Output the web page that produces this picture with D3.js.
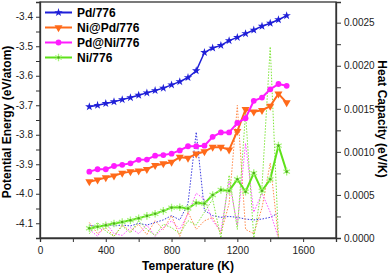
<!DOCTYPE html>
<html>
<head>
<meta charset="utf-8">
<script src="https://cdn.jsdelivr.net/npm/d3@7"></script>
<style>
  body { margin: 0; background: #fff; }
  svg { display: block; font-family: "Liberation Sans", Arial, sans-serif; }
</style>
</head>
<body>
<svg id="svg"></svg>
<script>
const width = 392;
const height = 277;
const margin = { top: 2, right: 56, bottom: 39, left: 40 };

// temperatures (K)
const temps = [300, 350, 400, 450, 500, 550, 600, 650, 700, 750, 800, 850, 900,
  950, 1000, 1050, 1100, 1150, 1200, 1250, 1300, 1350, 1400, 1450, 1500];
const heatTemps = [300, 350, 400, 450, 500, 550, 600, 650, 700, 750, 800, 850, 900,
  950, 1000, 1050, 1100, 1150, 1200, 1250, 1300, 1350, 1400, 1450];

// potential energy (eV/atom)
const pdEnergy = [-3.705, -3.700, -3.694, -3.688, -3.681, -3.674, -3.666, -3.658, -3.650, -3.642,
  -3.631, -3.620, -3.606, -3.583, -3.521, -3.506, -3.497, -3.481, -3.470, -3.457,
  -3.445, -3.432, -3.422, -3.410, -3.396];
const niPdEnergy = [-3.959, -3.953, -3.945, -3.939, -3.930, -3.925, -3.922, -3.917, -3.904, -3.898,
  -3.893, -3.876, -3.879, -3.865, -3.857, -3.842, -3.842, -3.851, -3.788, -3.714,
  -3.722, -3.717, -3.703, -3.661, -3.691];
const pdNiEnergy = [-3.925, -3.917, -3.917, -3.906, -3.902, -3.897, -3.885, -3.884, -3.871, -3.869,
  -3.864, -3.853, -3.839, -3.839, -3.837, -3.807, -3.792, -3.792, -3.760, -3.744,
  -3.685, -3.674, -3.646, -3.628, -3.634];
const niEnergy = [-4.117, -4.112, -4.107, -4.101, -4.096, -4.090, -4.083, -4.075, -4.068, -4.058,
  -4.047, -4.046, -4.050, -4.031, -4.033, -4.004, -3.987, -3.990, -3.951, -3.993,
  -3.930, -3.990, -3.951, -3.837, -3.925];

// heat capacity (eV/K)
const pdHeat = [0.00015, 0.00013, 0.00016, 0.00014, 0.00015, 0.00014, 0.00017, 0.00015, 0.00018, 0.00021,
  0.00026, 0.00021, 0.00040, 0.00123, 0.00032, 0.00026, 0.00024, 0.00025, 0.00024, 0.00022,
  0.00021, 0.00022, 0.00024, 0.00029];
const niPdHeat = [0.00018, 0.00005, 0.00012, 0.00002, 0.00015, 0.00008, 0.00016, 0.00004, 0.00020, 0.00010,
  0.00026, 0.00002, 0.00030, 0.00010, 0.00020, 0.00024, 0.00005, 0.00040, 0.00154, 0.00010,
  0.00005, 0.00035, 0.00087, 0.00000];
const pdNiHeat = [0.00010, 0.00002, 0.00018, 0.00005, 0.00003, 0.00012, 0.00005, 0.00015, 0.00002, 0.00012,
  0.00020, 0.00010, 0.00028, 0.00052, 0.00045, 0.00020, 0.00008, 0.00066, 0.00015, 0.00110,
  0.00030, 0.00052, 0.00030, 0.00000];
const niHeat = [0.00005, 0.00018, 0.00008, 0.00002, 0.00014, 0.00006, 0.00020, 0.00010, 0.00003, 0.00016,
  0.00012, 0.00005, 0.00020, 0.00015, 0.00030, 0.00045, 0.00000, 0.00073, 0.00010, 0.00145,
  0.00000, 0.00060, 0.00222, 0.00000];

const seriesNames = ["Pd/776", "Ni@Pd/776", "Pd@Ni/776", "Ni/776"];
const xTicks = [0, 400, 800, 1200, 1600];
const yTicks = [-4.1, -4.0, -3.9, -3.8, -3.7, -3.6, -3.5, -3.4];
const heatTicks = [0, 0.0005, 0.0010, 0.0015, 0.0020, 0.0025];

const series = [
  { name: seriesNames[0], energy: pdEnergy, heat: pdHeat, color: "#1f1fd8", heatColor: "#3a3ae0", symbol: "star" },
  { name: seriesNames[1], energy: niPdEnergy, heat: niPdHeat, color: "#ff6a1a", heatColor: "#ff8a4a", symbol: "tri" },
  { name: seriesNames[2], energy: pdNiEnergy, heat: pdNiHeat, color: "#ff1cff", heatColor: "#ff50ff", symbol: "circle" },
  { name: seriesNames[3], energy: niEnergy, heat: niHeat, color: "#5ee11a", heatColor: "#7fe63a", symbol: "ast" }
];

const svg = d3.select("#svg")
  .attr("width", width)
  .attr("height", height)
  .attr("viewBox", [0, 0, width, height]);

const x = d3.scaleLinear()
  .domain([0, 1800])
  .range([margin.left, width - margin.right]);

const y = d3.scaleLinear()
  .domain([-4.15, -3.35])
  .range([height - margin.bottom, margin.top]);

const yHeat = d3.scaleLinear()
  .domain([0, 0.00274])
  .range([height - margin.bottom, margin.top]);

function marker(g, type, color) {
  if (type === "star") {
    g.append("path").attr("d", d3.symbol(d3.symbolStar, 22)())
      .attr("fill", color);
  } else if (type === "tri") {
    g.append("path").attr("d", d3.symbol(d3.symbolTriangle, 28)())
      .attr("transform", "rotate(180)")
      .attr("fill", color);
  } else if (type === "circle") {
    g.append("circle").attr("r", 2.9).attr("fill", color);
  } else {
    g.append("path").attr("d", d3.symbol(d3.symbolAsterisk, 40)())
      .attr("fill", "none").attr("stroke", "#a6f57a").attr("stroke-width", 1.3);
    g.append("circle").attr("r", 1.3).attr("fill", "#4caf1a");
  }
}

// heat capacity dotted curves (right axis)
series.forEach(s => {
  svg.append("path")
    .datum(s.heat)
    .attr("fill", "none")
    .attr("stroke", s.heatColor)
    .attr("stroke-width", 1)
    .attr("stroke-dasharray", "1.5,1.5")
    .attr("d", d3.line()
      .x((d, i) => x(heatTemps[i]))
      .y(d => yHeat(d)));
});

// potential energy curves (left axis)
series.forEach((s, k) => {
  svg.append("path")
    .datum(s.energy)
    .attr("fill", "none")
    .attr("stroke", s.color)
    .attr("stroke-width", k === 0 ? 1.5 : 2)
    .attr("d", d3.line()
      .x((d, i) => x(temps[i]))
      .y(d => y(d)));

  svg.append("g")
    .selectAll("g")
    .data(s.energy)
    .join("g")
    .attr("transform", (d, i) => `translate(${x(temps[i])},${y(d)})`)
    .each(function () { marker(d3.select(this), s.symbol, s.color); });
});

// frame
svg.append("rect")
  .attr("x", margin.left)
  .attr("y", margin.top)
  .attr("width", width - margin.left - margin.right)
  .attr("height", height - margin.top - margin.bottom)
  .attr("fill", "none")
  .attr("stroke", "#333")
  .attr("stroke-width", 1.3);

function styleAxis(g) {
  g.select(".domain").attr("stroke", "#333").attr("stroke-width", 1.3);
  g.selectAll(".tick line").attr("stroke", "#333");
  g.selectAll(".tick text").attr("font-size", 10).attr("fill", "#222")
    .attr("font-family", "Liberation Sans, Arial, sans-serif");
}

// bottom axis
svg.append("g")
  .attr("transform", `translate(0,${height - margin.bottom})`)
  .call(d3.axisBottom(x).tickValues([0, 200, 400, 600, 800, 1000, 1200, 1400, 1600])
    .tickSize(4).tickFormat(d => xTicks.includes(d) ? d : ""))
  .call(styleAxis)
  .call(g => g.selectAll(".tick text").attr("dy", "0.9em"));

// left axis
svg.append("g")
  .attr("transform", `translate(${margin.left},0)`)
  .call(d3.axisLeft(y)
    .tickValues(d3.merge(yTicks.map(t => [t, t + 0.05])).filter(t => t < -3.35))
    .tickSize(4)
    .tickFormat(d => yTicks.some(t => Math.abs(t - d) < 1e-6) ? d3.format(".1f")(d).replace("−", "-") : ""))
  .call(styleAxis);

// right axis
svg.append("g")
  .attr("transform", `translate(${width - margin.right},0)`)
  .call(d3.axisRight(yHeat)
    .tickValues(d3.merge(heatTicks.map(t => [t, t + 0.00025])).filter(t => t < 0.00274))
    .tickSize(5)
    .tickFormat(d => heatTicks.some(t => Math.abs(t - d) < 1e-9) ? d3.format(".4f")(d) : ""))
  .call(styleAxis)
  .call(g => g.selectAll(".tick text").attr("x", 8));

// axis titles
svg.append("text")
  .text("Temperature (K)")
  .attr("x", (margin.left + width - margin.right) / 2)
  .attr("y", 270)
  .attr("text-anchor", "middle")
  .attr("font-size", 12)
  .attr("font-weight", "bold");

svg.append("text")
  .text("Potential Energy (eV/atom)")
  .attr("transform", "rotate(-90)")
  .attr("x", -122)
  .attr("y", 10.5)
  .attr("text-anchor", "middle")
  .attr("font-size", 12)
  .attr("font-weight", "bold");

svg.append("text")
  .text("Heat Capacity (eV/K)")
  .attr("transform", "rotate(90)")
  .attr("x", 119)
  .attr("y", -378)
  .attr("text-anchor", "middle")
  .attr("font-size", 12)
  .attr("font-weight", "bold");

// legend
const legend = svg.append("g");
series.forEach((s, i) => {
  const row = legend.append("g").attr("transform", `translate(0,${12.5 + i * 15})`);
  row.append("line")
    .attr("x1", 45).attr("x2", 72)
    .attr("stroke", s.color).attr("stroke-width", 2);
  marker(row.append("g").attr("transform", "translate(58.5,0)"), s.symbol, s.color);
  row.append("text")
    .text(s.name)
    .attr("x", 77)
    .attr("y", 4.3)
    .attr("font-size", 12)
    .attr("font-weight", "bold");
});
</script>
</body>
</html>
